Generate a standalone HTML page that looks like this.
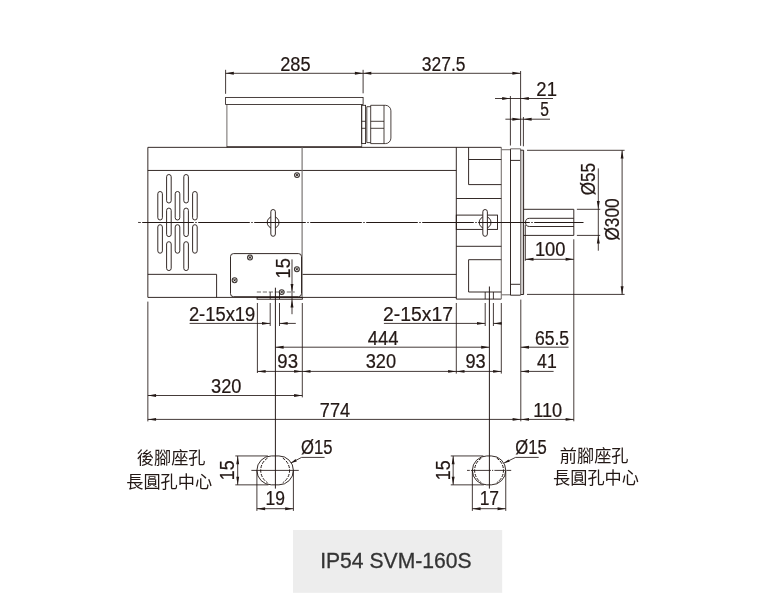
<!DOCTYPE html>
<html lang="zh-Hant">
<head>
<meta charset="utf-8">
<title>IP54 SVM-160S</title>
<style>
html,body{margin:0;padding:0;background:#fff;}
body{width:768px;height:611px;overflow:hidden;position:relative;font-family:"Liberation Sans",sans-serif;}
svg{position:absolute;left:0;top:0;display:block;will-change:transform;}
.b{fill:none;stroke:#231815;stroke-width:.92;}
.b2{fill:none;stroke:#231815;stroke-width:.82;}
.b3{fill:none;stroke:#3f3835;stroke-width:.75;}
.bw{fill:#fff;stroke:#231815;stroke-width:.92;}
.g{fill:none;stroke:#6f6a68;stroke-width:1.1;}
.g2{fill:none;stroke:#7a7472;stroke-width:1.1;}
.pl{fill:#d3d0cf;stroke:none;}
.d{fill:none;stroke:#231815;stroke-width:.85;}
.dash{fill:none;stroke:#6f6a68;stroke-width:1;stroke-dasharray:4.2 1.8;}
.dash2{fill:none;stroke:#231815;stroke-width:1;stroke-dasharray:3.2 1.3;}
.c0{fill:none;stroke:#231815;stroke-width:.98;}
.c{fill:none;stroke:#231815;stroke-width:1.1;stroke-dasharray:1.4 1.5 51.6 1.5;}
.c2{fill:none;stroke:#231815;stroke-width:.85;stroke-dasharray:2.8 1.1 20 1.1 1.2 1.2 8.6 1.1 1.2 1.2 4.7 9;}
.a{fill:#231815;stroke:none;}
.s{fill:#e4e2e1;stroke:#3a3330;stroke-width:1.05;}
.sx{fill:none;stroke:#4a4340;stroke-width:.8;}
.sf{fill:#231815;stroke:none;}
.t{font-family:"Liberation Sans",sans-serif;fill:#231815;stroke:#231815;stroke-width:.22;}
.k{fill:#231815;stroke:none;}
.kt{font-family:"Liberation Sans","Noto Sans CJK TC",sans-serif;fill:#231815;stroke:none;font-size:17.2px;}
.lb{fill:#ededed;stroke:none;}
.t2{font-family:"Liberation Sans",sans-serif;fill:#333;stroke:#333;stroke-width:.3;}
</style>
</head>
<body>
<svg width="768" height="611" viewBox="0 0 768 611">
<g id="body">
<rect class="b2" x="225.6" y="97.4" width="137.5" height="7.1"/>
<line class="b3" x1="226.9" y1="104.5" x2="226.9" y2="147.35"/>
<line class="b3" x1="361.7" y1="104.5" x2="361.7" y2="147.35"/>
<line class="b" x1="226.9" y1="146.75" x2="361.7" y2="146.75"/>
<rect class="b2" x="361.7" y="105.3" width="3.9" height="38.3"/>
<line class="b2" x1="361.7" y1="121.3" x2="365.6" y2="121.3"/>
<line class="b2" x1="361.7" y1="128.3" x2="365.6" y2="128.3"/>
<path class="b2" d="M370.7 106.7H366.8V142.6H370.7"/>
<path class="b2" d="M370.7 143.6V105.3H385.4A5.5 5.5 0 0 1 390.9 110.8V138.1A5.5 5.5 0 0 1 385.4 143.6Z"/>
<line class="b2" x1="384" y1="105.3" x2="384" y2="143.6"/>
<line class="b2" x1="370.7" y1="121.3" x2="384" y2="121.3"/>
<line class="b2" x1="370.7" y1="128.3" x2="384" y2="128.3"/>
<path class="b" d="M456.3 297.4H147.85V147.35H501.3"/>
<line class="b" x1="147.85" y1="170.45" x2="456.3" y2="170.45"/>
<line class="b" x1="147.85" y1="274.35" x2="216.6" y2="274.35"/>
<line class="b" x1="216.6" y1="274.35" x2="216.6" y2="297.4"/>
<line class="b" x1="302.3" y1="274.4" x2="456.3" y2="274.4"/>
<line class="g" x1="302.1" y1="147.35" x2="302.1" y2="297.4"/>
<path class="b" d="M456.3 147.35V299.1H501.3"/>
<line class="g2" x1="501.3" y1="147.35" x2="501.3" y2="299.1"/>
<path class="b" d="M468.6 147.35V184.6H501.3"/>
<line class="b" x1="468.6" y1="159.5" x2="501.3" y2="159.5"/>
<line class="b" x1="456.3" y1="198.5" x2="501.3" y2="198.5"/>
<line class="b" x1="456.3" y1="246.3" x2="501.3" y2="246.3"/>
<rect class="b" x="456.3" y="215.1" width="41.2" height="14.3"/>
<path class="b" d="M501.3 259.7H468.6V292H501.3"/>
<line class="d" x1="485.2" y1="292" x2="485.2" y2="299.1"/>
<line class="d" x1="493.4" y1="292" x2="493.4" y2="299.1"/>
<circle class="b" cx="273.1" cy="222.45" r="5.9"/>
<path class="bw" d="M270.83 211.78A2.27 2.27 0 0 1 275.38 211.78V234.03A2.27 2.27 0 0 1 270.83 234.03Z"/>
<circle class="b" cx="485.1" cy="222.45" r="5.9"/>
<path class="bw" d="M482.83 211.78A2.27 2.27 0 0 1 487.38 211.78V234.03A2.27 2.27 0 0 1 482.83 234.03Z"/>
<circle class="s" cx="297" cy="175.1" r="2.45"/>
<path class="sx" d="M295.5 173.6L298.5 176.6M298.5 173.6L295.5 176.6"/>
<circle class="sf" cx="297" cy="175.1" r="0.8"/>
<rect class="bw" x="230.5" y="253.6" width="71" height="43.1" rx="3"/>
<circle class="s" cx="250" cy="257.5" r="2.45"/>
<path class="sx" d="M248.5 256L251.5 259M251.5 256L248.5 259"/>
<circle class="sf" cx="250" cy="257.5" r="0.8"/>
<circle class="s" cx="234.6" cy="280.3" r="2.45"/>
<path class="sx" d="M233.1 278.8L236.1 281.8M236.1 278.8L233.1 281.8"/>
<circle class="sf" cx="234.6" cy="280.3" r="0.8"/>
<circle class="s" cx="296.9" cy="269.3" r="2.45"/>
<path class="sx" d="M295.4 267.8L298.4 270.8M298.4 267.8L295.4 270.8"/>
<circle class="sf" cx="296.9" cy="269.3" r="0.8"/>
<circle class="s" cx="281.7" cy="292.1" r="2.45"/>
<path class="sx" d="M280.2 290.6L283.2 293.6M283.2 290.6L280.2 293.6"/>
<circle class="sf" cx="281.7" cy="292.1" r="0.8"/>
<rect class="b" x="257.1" y="297.4" width="45.2" height="1.8"/>
<line class="dash" x1="256.8" y1="292" x2="294.8" y2="292"/>
<line class="d" x1="270.2" y1="292.1" x2="270.2" y2="299.2"/>
<line class="d" x1="279.5" y1="292.1" x2="279.5" y2="299.2"/>
<path class="bw" d="M157.8 193.8A2.3 2.3 0 0 1 162.4 193.8V217.7A2.3 2.3 0 0 1 157.8 217.7Z"/>
<path class="bw" d="M157.8 227A2.3 2.3 0 0 1 162.4 227V250.9A2.3 2.3 0 0 1 157.8 250.9Z"/>
<path class="bw" d="M175.2 193.8A2.3 2.3 0 0 1 179.8 193.8V217.7A2.3 2.3 0 0 1 175.2 217.7Z"/>
<path class="bw" d="M175.2 227A2.3 2.3 0 0 1 179.8 227V250.9A2.3 2.3 0 0 1 175.2 250.9Z"/>
<path class="bw" d="M192.6 193.8A2.3 2.3 0 0 1 197.2 193.8V217.7A2.3 2.3 0 0 1 192.6 217.7Z"/>
<path class="bw" d="M192.6 227A2.3 2.3 0 0 1 197.2 227V250.9A2.3 2.3 0 0 1 192.6 250.9Z"/>
<path class="bw" d="M166.6 176.8A2.3 2.3 0 0 1 171.2 176.8V200.7A2.3 2.3 0 0 1 166.6 200.7Z"/>
<path class="bw" d="M166.6 210.4A2.3 2.3 0 0 1 171.2 210.4V234.3A2.3 2.3 0 0 1 166.6 234.3Z"/>
<path class="bw" d="M166.6 244A2.3 2.3 0 0 1 171.2 244V268.3A2.3 2.3 0 0 1 166.6 268.3Z"/>
<path class="bw" d="M183.8 176.8A2.3 2.3 0 0 1 188.4 176.8V200.7A2.3 2.3 0 0 1 183.8 200.7Z"/>
<path class="bw" d="M183.8 210.4A2.3 2.3 0 0 1 188.4 210.4V234.3A2.3 2.3 0 0 1 183.8 234.3Z"/>
<path class="bw" d="M183.8 244A2.3 2.3 0 0 1 188.4 244V268.3A2.3 2.3 0 0 1 183.8 268.3Z"/>
<line class="g2" x1="501.3" y1="149.7" x2="510.5" y2="149.7"/>
<line class="g2" x1="501.3" y1="294.8" x2="510.5" y2="294.8"/>
<path class="b" d="M510.5 148.8V295.2H520.6"/>
<line class="g2" x1="510.5" y1="148.8" x2="520.6" y2="148.8"/>
<line class="b" x1="510.5" y1="160.4" x2="520.7" y2="160.4"/>
<line class="b" x1="510.5" y1="284.3" x2="520.7" y2="284.3"/>
<rect class="pl" x="520.5" y="150.2" width="3.1" height="144.3"/>
<line class="g2" x1="520.6" y1="148.8" x2="520.6" y2="295.2"/>
<path class="b" d="M520.6 150.2H523.6V294.5H520.6"/>
<path class="b" d="M523.6 209.3H573.8V235.4H523.6"/>
<path class="b" d="M573.8 218.3H529.6A4.1 4.1 0 0 0 529.6 226.5H573.8"/>
</g>
<g id="dims">
<line class="c" x1="139.3" y1="222.45" x2="583.5" y2="222.45"/>
<line class="c0" x1="138.2" y1="222.45" x2="139.4" y2="222.45"/>
<line class="c0" x1="275.4" y1="287.7" x2="275.4" y2="488.6"/>
<line class="c0" x1="489.4" y1="286.5" x2="489.4" y2="488.6"/>
<line class="d" x1="225.6" y1="69.8" x2="225.6" y2="93.8"/>
<line class="d" x1="363.1" y1="69.8" x2="363.1" y2="93.3"/>
<line class="d" x1="520.6" y1="71" x2="520.6" y2="145.8"/>
<line class="d" x1="225.6" y1="73.3" x2="520.6" y2="73.3"/>
<polygon class="a" points="225.6,73.3 233.8,71.85 233.8,74.75"/>
<polygon class="a" points="363.1,73.3 354.9,71.85 354.9,74.75"/>
<polygon class="a" points="363.1,73.3 371.3,71.85 371.3,74.75"/>
<polygon class="a" points="520.6,73.3 512.4,71.85 512.4,74.75"/>
<text class="t" font-size="19.5" transform="translate(280.18 70.6) scale(0.9338 1)">285</text>
<text class="t" font-size="19.5" transform="translate(421.83 70.6) scale(0.8955 1)">327.5</text>
<line class="d" x1="510.4" y1="96" x2="510.4" y2="145.5"/>
<line class="d" x1="495" y1="98.5" x2="553" y2="98.5"/>
<polygon class="a" points="510.4,98.5 502.2,97.05 502.2,99.95"/>
<polygon class="a" points="520.6,98.5 528.8,97.05 528.8,99.95"/>
<text class="t" font-size="19.5" transform="translate(536.37 95.9) scale(0.9465 1)">21</text>
<line class="d" x1="523.4" y1="117" x2="523.4" y2="146.3"/>
<line class="d" x1="505.4" y1="119.2" x2="550" y2="119.2"/>
<polygon class="a" points="520.6,119.2 512.4,117.75 512.4,120.65"/>
<polygon class="a" points="523.4,119.2 531.6,117.75 531.6,120.65"/>
<text class="t" font-size="19.5" transform="translate(540.28 116.1) scale(0.8004 1)">5</text>
<line class="d" x1="527" y1="150.3" x2="624.6" y2="150.3"/>
<line class="d" x1="527" y1="294.4" x2="624.6" y2="294.4"/>
<line class="d" x1="622.1" y1="150.3" x2="622.1" y2="294.4"/>
<polygon class="a" points="622.1,150.3 620.65,158.5 623.55,158.5"/>
<polygon class="a" points="622.1,294.4 620.65,286.2 623.55,286.2"/>
<text class="t" font-size="19.5" transform="translate(618.8 240.6) rotate(-90) scale(0.8862 1)">Ø300</text>
<line class="d" x1="576.9" y1="209.3" x2="600.2" y2="209.3"/>
<line class="d" x1="576.9" y1="235.4" x2="600.2" y2="235.4"/>
<line class="d" x1="598.3" y1="168.4" x2="598.3" y2="250.7"/>
<polygon class="a" points="598.3,209.3 596.85,201.1 599.75,201.1"/>
<polygon class="a" points="598.3,235.4 596.85,243.6 599.75,243.6"/>
<text class="t" font-size="19.5" transform="translate(595 195.29) rotate(-90) scale(0.8766 1)">Ø55</text>
<line class="d" x1="525.3" y1="225" x2="525.3" y2="260.8"/>
<line class="d" x1="573.8" y1="239.3" x2="573.8" y2="421.3"/>
<line class="d" x1="525.3" y1="259.3" x2="573.8" y2="259.3"/>
<polygon class="a" points="525.3,259.3 533.5,257.85 533.5,260.75"/>
<polygon class="a" points="573.8,259.3 565.6,257.85 565.6,260.75"/>
<text class="t" font-size="19.5" transform="translate(534.9 256.4) scale(0.9410 1)">100</text>
<line class="d" x1="292" y1="259.4" x2="292" y2="314.2"/>
<polygon class="a" points="292,292.1 290.55,283.9 293.45,283.9"/>
<polygon class="a" points="292,299.4 290.55,307.6 293.45,307.6"/>
<text class="t" font-size="19.5" transform="translate(289.6 278.39) rotate(-90) scale(0.9337 1)">15</text>
<line class="d" x1="147.85" y1="301.6" x2="147.85" y2="421.4"/>
<line class="d" x1="257.4" y1="303" x2="257.4" y2="373"/>
<line class="d" x1="302.3" y1="303" x2="302.3" y2="397.4"/>
<line class="d" x1="270.2" y1="303" x2="270.2" y2="326"/>
<line class="d" x1="279.5" y1="303" x2="279.5" y2="326"/>
<line class="d" x1="456.3" y1="303" x2="456.3" y2="373.6"/>
<line class="d" x1="485.2" y1="303" x2="485.2" y2="326"/>
<line class="d" x1="493.4" y1="303" x2="493.4" y2="326"/>
<line class="d" x1="501.3" y1="303" x2="501.3" y2="373.6"/>
<line class="d" x1="520.8" y1="299.6" x2="520.8" y2="421.3"/>
<line class="d" x1="189.6" y1="323.4" x2="270.2" y2="323.4"/>
<line class="d" x1="279.5" y1="323.4" x2="295.8" y2="323.4"/>
<polygon class="a" points="270.2,323.4 262,321.95 262,324.85"/>
<polygon class="a" points="279.5,323.4 287.7,321.95 287.7,324.85"/>
<text class="t" font-size="19.5" transform="translate(188.88 320.7) scale(0.9422 1)">2-15x19</text>
<line class="d" x1="383.9" y1="323.4" x2="485.2" y2="323.4"/>
<line class="d" x1="493.4" y1="323.4" x2="501.3" y2="323.4"/>
<polygon class="a" points="485.2,323.4 477,321.95 477,324.85"/>
<polygon class="a" points="493.4,323.4 501.6,321.95 501.6,324.85"/>
<text class="t" font-size="19.5" transform="translate(383.03 320.7) scale(0.9926 1)">2-15x17</text>
<line class="d" x1="275.4" y1="347.2" x2="489.4" y2="347.2"/>
<polygon class="a" points="275.4,347.2 283.6,345.75 283.6,348.65"/>
<polygon class="a" points="489.4,347.2 481.2,345.75 481.2,348.65"/>
<line class="d" x1="520.8" y1="347.2" x2="568.6" y2="347.2"/>
<polygon class="a" points="520.8,347.2 529,345.75 529,348.65"/>
<text class="t" font-size="19.5" transform="translate(367.78 344.6) scale(0.9455 1)">444</text>
<text class="t" font-size="19.5" transform="translate(534.91 344.6) scale(0.9020 1)">65.5</text>
<line class="d" x1="257.4" y1="371.4" x2="501.3" y2="371.4"/>
<line class="d" x1="520.8" y1="371.4" x2="553.6" y2="371.4"/>
<polygon class="a" points="257.4,371.4 265.6,369.95 265.6,372.85"/>
<polygon class="a" points="302.3,371.4 294.1,369.95 294.1,372.85"/>
<polygon class="a" points="302.3,371.4 310.5,369.95 310.5,372.85"/>
<polygon class="a" points="456.3,371.4 448.1,369.95 448.1,372.85"/>
<polygon class="a" points="456.3,371.4 464.5,369.95 464.5,372.85"/>
<polygon class="a" points="501.3,371.4 493.1,369.95 493.1,372.85"/>
<polygon class="a" points="520.8,371.4 529,369.95 529,372.85"/>
<text class="t" font-size="19.5" transform="translate(277.33 368.4) scale(0.9539 1)">93</text>
<text class="t" font-size="19.5" transform="translate(365.71 368.4) scale(0.9346 1)">320</text>
<text class="t" font-size="19.5" transform="translate(465.45 368.4) scale(0.9338 1)">93</text>
<text class="t" font-size="19.5" transform="translate(537.09 368.4) scale(0.9068 1)">41</text>
<line class="d" x1="147.85" y1="395.5" x2="302.3" y2="395.5"/>
<polygon class="a" points="147.85,395.5 156.05,394.05 156.05,396.95"/>
<polygon class="a" points="302.3,395.5 294.1,394.05 294.1,396.95"/>
<text class="t" font-size="19.5" transform="translate(211.11 392.7) scale(0.9346 1)">320</text>
<line class="d" x1="147.85" y1="419.4" x2="573.8" y2="419.4"/>
<polygon class="a" points="147.85,419.4 156.05,417.95 156.05,420.85"/>
<polygon class="a" points="520.8,419.4 512.6,417.95 512.6,420.85"/>
<polygon class="a" points="520.8,419.4 529,417.95 529,420.85"/>
<polygon class="a" points="573.8,419.4 565.6,417.95 565.6,420.85"/>
<text class="t" font-size="19.5" transform="translate(319.87 416.6) scale(0.9301 1)">774</text>
<text class="t" font-size="19.5" transform="translate(533.22 416.6) scale(0.9311 1)">110</text>
</g>
<g>
<path class="b" d="M271.35 455.95H278.95A14.45 14.45 0 0 1 278.95 484.85H271.35A14.45 14.45 0 0 1 271.35 455.95Z"/>
<path class="dash2" d="M267.49 458.15A14.45 14.45 0 0 0 267.49 482.65"/>
<path class="dash2" d="M282.81 458.15A14.45 14.45 0 0 1 282.81 482.65"/>
<line class="d" x1="251.35" y1="470.4" x2="298.75" y2="470.4"/>
<line class="d" x1="235.3" y1="455.95" x2="267.9" y2="455.95"/>
<line class="d" x1="235.3" y1="484.85" x2="268.4" y2="484.85"/>
<line class="d" x1="237.7" y1="455.95" x2="237.7" y2="484.85"/>
<polygon class="a" points="237.7,455.95 236.25,464.15 239.15,464.15"/>
<polygon class="a" points="237.7,484.85 236.25,476.65 239.15,476.65"/>
<text class="t" font-size="19.5" transform="translate(234.3 480.16) rotate(-90) scale(0.9130 1)">15</text>
<line class="d" x1="256.9" y1="470.4" x2="256.9" y2="510.9"/>
<line class="d" x1="293.4" y1="470.4" x2="293.4" y2="510.9"/>
<line class="d" x1="256.9" y1="508.7" x2="293.4" y2="508.7"/>
<polygon class="a" points="256.9,508.7 265.1,507.25 265.1,510.15"/>
<polygon class="a" points="293.4,508.7 285.2,507.25 285.2,510.15"/>
</g>
<text class="t" font-size="19.5" transform="translate(265.47 505.4) scale(0.8973 1)">19</text>
<g>
<path class="b" d="M486.8 455.95H491.3A14.45 14.45 0 0 1 491.3 484.85H486.8A14.45 14.45 0 0 1 486.8 455.95Z"/>
<path class="dash2" d="M481.39 458.15A14.45 14.45 0 0 0 481.39 482.65"/>
<path class="dash2" d="M496.71 458.15A14.45 14.45 0 0 1 496.71 482.65"/>
<line class="c2" x1="467" y1="470.4" x2="511.2" y2="470.4"/>
<line class="d" x1="450.75" y1="455.95" x2="483.35" y2="455.95"/>
<line class="d" x1="450.75" y1="484.85" x2="483.85" y2="484.85"/>
<line class="d" x1="453.15" y1="455.95" x2="453.15" y2="484.85"/>
<polygon class="a" points="453.15,455.95 451.7,464.15 454.6,464.15"/>
<polygon class="a" points="453.15,484.85 451.7,476.65 454.6,476.65"/>
<text class="t" font-size="19.5" transform="translate(449.75 480.16) rotate(-90) scale(0.9130 1)">15</text>
<line class="d" x1="472.35" y1="470.4" x2="472.35" y2="510.9"/>
<line class="d" x1="505.75" y1="470.4" x2="505.75" y2="510.9"/>
<line class="d" x1="472.35" y1="508.7" x2="505.75" y2="508.7"/>
<polygon class="a" points="472.35,508.7 480.55,507.25 480.55,510.15"/>
<polygon class="a" points="505.75,508.7 497.55,507.25 497.55,510.15"/>
</g>
<text class="t" font-size="19.5" transform="translate(479.67 505.4) scale(0.8947 1)">17</text>
<line class="d" x1="301.6" y1="457.4" x2="324.6" y2="457.4"/>
<line class="d" x1="301.6" y1="457.4" x2="291" y2="462.9"/>
<polygon class="a" points="291,462.9 295.55,459.07 296.75,461.38"/>
<text class="t" font-size="19.5" transform="translate(301.12 454.3) scale(0.8540 1)">Ø15</text>
<line class="d" x1="515.6" y1="457.4" x2="538.7" y2="457.4"/>
<line class="d" x1="515.6" y1="457.4" x2="503.9" y2="463.1"/>
<polygon class="a" points="503.9,463.1 508.54,459.39 509.68,461.73"/>
<text class="t" font-size="19.5" transform="translate(515.32 454.3) scale(0.8540 1)">Ø15</text>
<text class="kt" x="136.8" y="464.4">後腳座孔</text>
<text class="kt" x="126.2" y="488.2">長圓孔中心</text>
<text class="kt" x="559.8" y="462.4">前腳座孔</text>
<text class="kt" x="553" y="484.4">長圓孔中心</text>
<rect class="lb" x="293" y="530" width="209.2" height="62.8"/>
<text class="t2" font-size="22.7" transform="translate(320.15 567.5) scale(0.9315 1)">IP54 SVM-160S</text>
</svg>
</body>
</html>
